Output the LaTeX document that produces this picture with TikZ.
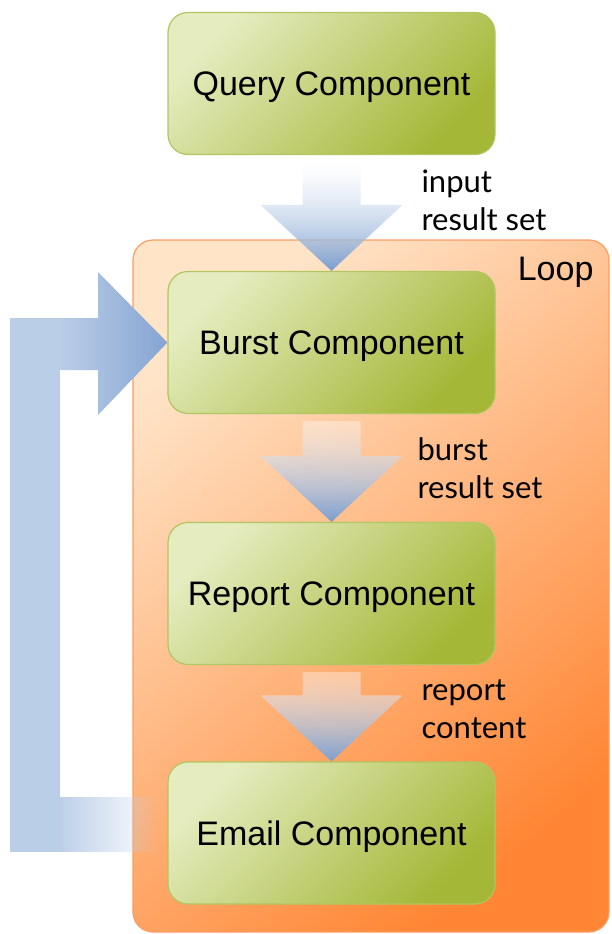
\documentclass[tikz,border=0pt]{standalone}
\usepackage{fontspec}
\setmainfont{Liberation Sans}
\newfontfamily\notefont{Lato}
\usetikzlibrary{calc,fadings,shadings,backgrounds}
\definecolor{boxlight}{RGB}{229,236,192}
\definecolor{boxdark}{RGB}{164,183,54}
\definecolor{boxborder}{RGB}{176,198,96}
\definecolor{looplight}{RGB}{255,228,200}
\definecolor{loopdark}{RGB}{255,134,52}
\definecolor{loopborder}{RGB}{250,158,100}
\definecolor{flowblue}{RGB}{122,158,208}
\definecolor{returnlight}{RGB}{187,206,231}
\definecolor{returndark}{RGB}{133,164,211}
\tikzfading[name=fadedown, top color=transparent!65, bottom color=transparent!0]
\tikzfading[name=faderight, left color=transparent!0, right color=transparent!100]
\tikzset{
compblock/.style={
  draw=boxborder,
  line width=1.2pt,
  rounded corners=20pt,
  top color=boxlight,
  bottom color=boxdark,
  shading angle=45,
  minimum width=327pt,
  minimum height=142pt,
  text height=24pt,
  text depth=0pt,
  font=\fontsize{34}{40}\selectfont
},
loopframe/.style={
  draw=loopborder,
  line width=1.2pt,
  rounded corners=20pt,
  top color=looplight,
  bottom color=loopdark,
  shading angle=40,
  minimum width=476pt,
  minimum height=692pt
},
looplabel/.style={
  font=\fontsize{34}{40}\selectfont
},
flowlabel/.style={
  font=\notefont\fontsize{31}{38}\selectfont,
  align=left,
  anchor=west
},
flowarrow/.style={
  top color=white,
  bottom color=flowblue,
  path fading=fadedown
},
returnbar/.style={
  fill=returnlight
},
returnhead/.style={
  left color=returnlight,
  right color=returndark
}
}
% block arrow from the bottom of #1 to the top of #2
\newcommand{\flowarrow}[2]{%
  \shade[flowarrow] ($(#1.south)+(-29,7)$) -- ($(#1.south)+(29,7)$)
    -- ($(#2.north)+(29,-66)$) -- ($(#2.north)+(71,-66)$) -- (#2.north)
    -- ($(#2.north)+(-71,-66)$) -- ($(#2.north)+(-29,-66)$) -- cycle;}

\begin{document}
\begin{tikzpicture}[x=1pt,y=-1pt]
\useasboundingbox (0,0) rectangle (611,934);

\node[compblock] (query) at (331.5,83.5) {Query Component};
\node[compblock] (burst) at (331.5,342.5) {Burst Component};
\node[compblock] (report) at (331.5,593.5) {Report Component};
\node[compblock] (email) at (331.5,833) {Email Component};

\begin{scope}[on background layer]
\node[loopframe] (loop) at (371,586) {};
\node[looplabel, anchor=east] (looptext) at (597,272) {Loop};
% return arrow, email -> burst
\fill[returnbar, path fading=faderight] ($(email.west)+(-8,-36)$) rectangle ($(email.west)+(-110,19)$);
\fill[returnbar] (10,318) rectangle (60,852);
\shade[returnhead] (58,318) -- (98,318) -- (98,272) -- (burst.west)
  -- (98,415) -- (98,370) -- (58,370) -- cycle;
\end{scope}

\flowarrow{query}{burst}
\flowarrow{burst}{report}
\flowarrow{report}{email}

\node[flowlabel] (inputlabel) at (418,200) {input\\result set};
\node[flowlabel] (burstlabel) at (414,468) {burst\\result set};
\node[flowlabel] (reportlabel) at (418,709) {report\\content};
\end{tikzpicture}
\end{document}
